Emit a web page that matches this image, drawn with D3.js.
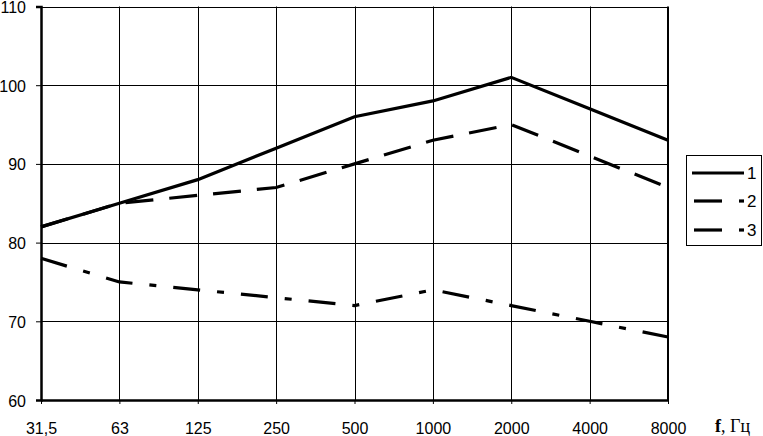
<!DOCTYPE html>
<html><head><meta charset="utf-8">
<script src="https://cdn.jsdelivr.net/npm/d3@7"></script>
<style>body{margin:0;background:#fff}svg{display:block}</style>
</head><body>
<script>
const categories = ["31,5","63","125","250","500","1000","2000","4000","8000"];
const series1 = [82,85,88,92,96,98,101,97,93];
const series2 = [82,85,86,87,90,93,95,91,87];
const series3 = [78,75,74,73,72,74,72,70,68];
const seriesNames = ["1","2","3"];
const yTicks = [60,70,80,90,100,110];
const xTitleA = "f";
const xTitleB = ", Гц";

const W=763,H=436;
const svg=d3.select("body").append("svg").attr("width",W).attr("height",H);
const x=d3.scalePoint().domain(categories).range([41,668]);
const y=d3.scaleLinear().domain([60,110]).range([400,6.5]);
const font="'Liberation Sans',Arial,sans-serif";

// grid
svg.append("g").selectAll("line").data(yTicks.filter(d=>d>60)).join("line")
  .attr("x1",41).attr("x2",668).attr("y1",d=>Math.round(y(d))+0.5).attr("y2",d=>Math.round(y(d))+0.5)
  .attr("stroke","#000").attr("stroke-width",1);
svg.append("g").selectAll("line").data(categories.slice(1,-1)).join("line")
  .attr("x1",d=>Math.round(x(d))+0.5).attr("x2",d=>Math.round(x(d))+0.5).attr("y1",y(110)).attr("y2",400)
  .attr("stroke","#000").attr("stroke-width",1);
// right border
svg.append("line").attr("x1",668).attr("x2",668).attr("y1",y(110)).attr("y2",400).attr("stroke","#000").attr("stroke-width",2);

// y axis
const ya=svg.append("g").attr("transform","translate(41,0)")
  .call(d3.axisLeft(y).tickValues(yTicks).tickSize(5).tickPadding(10).tickFormat(d3.format("d")));
ya.select(".domain").attr("stroke-width",2.5);
ya.selectAll(".tick line").attr("stroke-width",1);
ya.selectAll("text").attr("font-family",font).attr("font-size",16).attr("fill","#000").attr("dy","0.38em");

// x axis
const xa=svg.append("g").attr("transform","translate(0,400)")
  .call(d3.axisBottom(x).tickSize(4).tickPadding(19).tickSizeOuter(0));
xa.select(".domain").attr("stroke-width",2.5);
xa.selectAll("text").attr("font-family",font).attr("font-size",16).attr("fill","#000");

const t=svg.append("text").attr("x",715).attr("y",432).attr("font-family","'Liberation Serif','Times New Roman',serif")
  .attr("font-size",18);
t.append("tspan").attr("font-weight","bold").text(xTitleA);
t.append("tspan").text(xTitleB);

const line=d3.line().x((d,i)=>x(categories[i])).y(d=>y(d));
const dashes=[null,"28,16","27,17,7,17"];
[series1,series2,series3].forEach((s,k)=>{
  svg.append("path").datum(s).attr("d",line).attr("fill","none").attr("stroke","#000")
    .attr("stroke-width",3.2).attr("stroke-dasharray",dashes[k]);
});

// legend
const lg=svg.append("g");
lg.append("rect").attr("x",686.5).attr("y",155.5).attr("width",75).attr("height",90).attr("fill","#fff").attr("stroke","#000");
const ly=[173,201,230];
seriesNames.forEach((n,k)=>{
  if(k===0){
    lg.append("line").attr("x1",692).attr("x2",744).attr("y1",ly[k]).attr("y2",ly[k]).attr("stroke","#000").attr("stroke-width",3.2);
  } else {
    lg.append("line").attr("x1",694).attr("x2",722).attr("y1",ly[k]).attr("y2",ly[k]).attr("stroke","#000").attr("stroke-width",3.2);
    lg.append("line").attr("x1",739).attr("x2",744).attr("y1",ly[k]).attr("y2",ly[k]).attr("stroke","#000").attr("stroke-width",3.2);
  }
  lg.append("text").attr("x",747).attr("y",ly[k]+6).attr("font-family",font).attr("font-size",17).text(n);
});
</script>
</body></html>
